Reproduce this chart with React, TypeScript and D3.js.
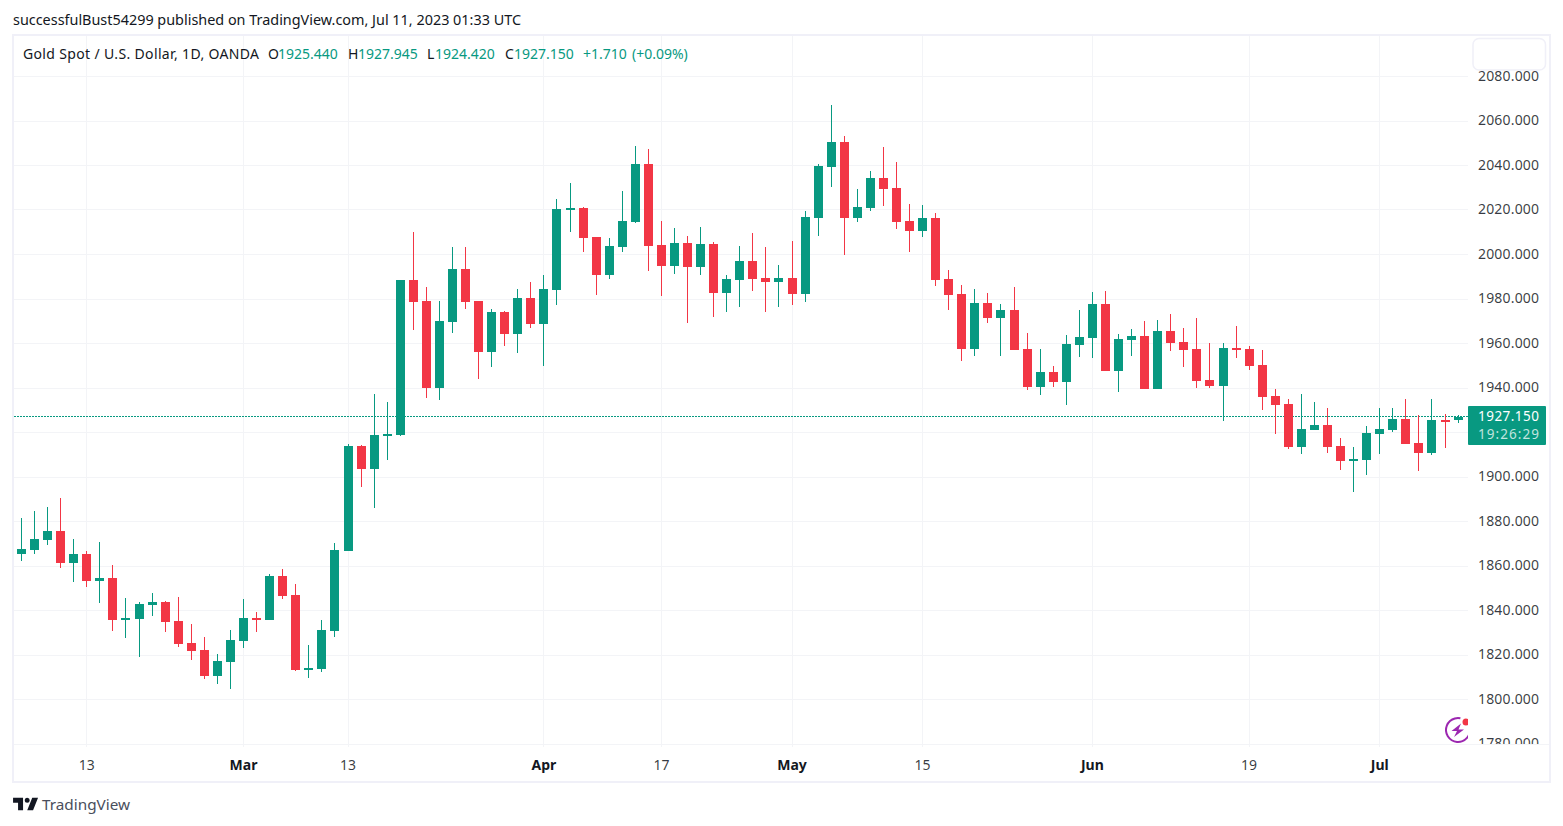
import * as d3 from "d3";
import React from "react";

const opens = [
  1865.4, 1867.2, 1871.7, 1875.7, 1861.3, 1865.4, 1853.3, 1854.6, 1835.7, 1836.2, 1842.5, 1843.8, 1835.3, 1825.4, 1822.2, 1810.6, 1816.9, 1826.3, 1836.6, 1835.7, 1855.5, 1847, 1813.3, 1813.7, 1830.8, 1866.7,
  1913.9, 1903.6, 1918.4, 1918.9, 1988.5, 1979.1, 1940, 1969.6, 1993.5, 1979.1, 1956.2, 1974.1, 1964.3, 1980.4, 1968.8, 1984, 2020, 2020.9, 2007.9, 1990.8, 2003.4, 2014.6, 2040.7, 2004.3, 1994.8, 2005.2, 1994.4, 2004.7, 1982.7, 1988.5, 1997.1, 1989.4, 1987.6, 1989.4, 1982.2,
  2016.4, 2039.3, 2050.5, 2016.4, 2020.9, 2034.4, 2029.9, 2015, 2010.5, 2016.4, 1989, 1982.2, 1957.5, 1978.2, 1971.4, 1975, 1957.5, 1940.4, 1947.2, 1942.7, 1959.3, 1962.5, 1977.7, 1947.6, 1961.6, 1963.4, 1939.5, 1965.6, 1960.7, 1957.5, 1943.6, 1940.9, 1958, 1957.5, 1950.3, 1936.4, 1932.8, 1913.5, 1921.1, 1923.4, 1913.9, 1907.2, 1907.6, 1919.3, 1921.1, 1926.1, 1915.3, 1910.8, 1925.6, 1925.44,
];
const highs = [
  1881.6, 1884.7, 1886.5, 1890.6, 1872.1, 1866.7, 1870.8, 1860.4, 1845.6, 1843.8, 1847.9, 1844.3, 1846.1, 1833.9, 1828.1, 1820.4, 1831.2, 1845.2, 1839.3, 1856.4, 1858.6, 1851.9, 1824.5, 1835.7, 1870.3, 1914.8,
  1914.4, 1937.3, 1933.7, 1988.5, 2010.1, 1985.4, 1979.1, 2003.4, 2003.4, 1979.1, 1975.5, 1974.6, 1984.5, 1987.6, 1990.8, 2024.9, 2032.1, 2021.3, 2007.9, 2007.4, 2028.5, 2048.7, 2047.4, 2015, 2011.9, 2008.3, 2012.3, 2005.6, 1990.8, 2003.8, 2009.6, 2003.4, 1995.3, 2006, 2019.5,
  2040.7, 2067.2, 2053.2, 2029.4, 2037.5, 2048.3, 2041.6, 2022.7, 2022.2, 2018.6, 1993, 1986.3, 1984.5, 1982.7, 1977.7, 1985.4, 1964.7, 1957.5, 1949.9, 1963.8, 1975, 1983.1, 1983.6, 1964.3, 1966.5, 1970.1, 1970.5, 1973.2, 1967, 1971.4, 1960.2, 1960.2, 1967.9, 1958.9, 1957.1, 1939.5, 1935, 1937.3, 1933.7, 1931, 1917.5, 1913.5, 1922.9, 1931, 1931, 1935, 1927.9, 1935, 1928.3, 1927.945,
];
const lows = [
  1862.2, 1865.4, 1869.4, 1859.1, 1852.8, 1850.6, 1843.4, 1830.8, 1827.6, 1819.1, 1837.5, 1830.3, 1823.6, 1817.8, 1809.2, 1807, 1804.7, 1823.1, 1830.3, 1835.7, 1845.2, 1812.8, 1809.7, 1812.4, 1828.1, 1866.7,
  1895.5, 1886.1, 1907.6, 1918.4, 1966.1, 1935.5, 1934.6, 1964.7, 1975.5, 1944, 1949.4, 1958.9, 1955.7, 1966.9, 1949.9, 1977.3, 2010.1, 2001.1, 1981.8, 1989, 2001.1, 2014.1, 1992.6, 1981.3, 1991.2, 1969.2, 1990.8, 1971.9, 1974.1, 1976.4, 1983.6, 1974.1, 1976.4, 1977.3, 1978.6,
  2008.3, 2030.3, 1999.8, 2014.6, 2019.5, 2021.8, 2011.4, 2001.1, 2007.9, 1985.8, 1975, 1952.1, 1954.4, 1969.2, 1954.4, 1957.1, 1939.1, 1936.8, 1940.4, 1932.4, 1953.9, 1953.5, 1947.6, 1938.2, 1954.4, 1939.5, 1939.5, 1956.6, 1949.4, 1940, 1940, 1925.2, 1953.5, 1948.1, 1930.1, 1919.3, 1912.6, 1910.3, 1921.1, 1910.8, 1903.1, 1893.3, 1900.9, 1910.3, 1920.2, 1914.8, 1902.7, 1909.9, 1913, 1924.42,
];
const closes = [
  1867.6, 1872.1, 1875.7, 1861.3, 1865.4, 1853.3, 1854.6, 1835.7, 1836.6, 1842.9, 1843.8, 1834.8, 1824.9, 1821.8, 1810.6, 1817.3, 1826.7, 1836.6, 1835.7, 1855.5, 1846.5, 1813.3, 1814.2, 1831.2, 1867.2, 1913.9,
  1903.6, 1918.9, 1919.3, 1988.5, 1978.6, 1940, 1970.1, 1993.5, 1978.6, 1956.2, 1974.1, 1964.3, 1980.4, 1968.8, 1984.5, 2020.4, 2020.9, 2007.4, 1990.8, 2003.8, 2015, 2040.7, 2003.8, 1994.8, 2005.2, 1994.4, 2004.7, 1982.7, 1989, 1997.1, 1989, 1987.6, 1989.4, 1982.2, 2016.8,
  2039.8, 2050.5, 2016.4, 2021.3, 2034.4, 2029.4, 2014.6, 2010.5, 2016.4, 1988.5, 1981.8, 1957.5, 1978.2, 1971.4, 1975, 1957.1, 1940.4, 1947.2, 1942.7, 1959.8, 1962.9, 1977.7, 1947.6, 1962, 1963.4, 1939.5, 1965.6, 1960.2, 1957.1, 1943.1, 1940.9, 1958, 1957.1, 1949.9, 1935.9, 1932.4, 1913.5, 1921.6, 1923.4, 1913.5, 1907.2, 1908.1, 1919.8, 1921.6, 1926.1, 1914.8, 1910.8, 1925.6, 1925.2, 1927.15,
];

const lastPrice = 1927.15;
const priceTicks = d3.range(1780, 2081, 20);
const timeTickIndex = [5, 17, 25, 40, 49, 59, 69, 82, 94, 104];
const timeTickLabels = ["13", "Mar", "13", "Apr", "17", "May", "15", "Jun", "19", "Jul"];
const monthLabels = ["Mar", "Apr", "May", "Jun", "Jul"];

const legendParts: [number, string, boolean, number?][] = [
  [23, "Gold Spot / U.S. Dollar, 1D, OANDA", false, 236],
  [268, "O", false],
  [278, "1925.440", true],
  [348, "H", false],
  [358, "1927.945", true],
  [427, "L", false],
  [435, "1924.420", true],
  [505, "C", false],
  [514, "1927.150", true],
  [583, "+1.710", true],
  [632, "(+0.09%)", true],
];

const upColor = "#089981";
const downColor = "#f23645";
const gridColor = "#f3f4f7";
const borderColor = "#f0f0f8";
const textColor = "#131722";
const fontFamily = "'Noto Sans', sans-serif";

const width = 1563;
const height = 826;
const plotLeft = 14;
const plotRight = 1468;
const plotTop = 36;
const plotBottom = 744;
const bodyWidth = 9;

export default function App() {
  const x = d3.scaleLinear().domain([0, opens.length - 1]).range([21, 1457.6]);
  const y = d3.scaleLinear().domain([1780, 2080]).range([744, 76.5]);
  const lastY = y(lastPrice);

  return (
    <svg
      width={width}
      height={height}
      viewBox={`0 0 ${width} ${height}`}
      style={{ position: "absolute", left: 0, top: 0, background: "#fff", fontFamily }}
    >
      <defs>
        <clipPath id="axis-clip">
          <rect x={plotRight} y={plotTop} width={80} height={plotBottom - plotTop} />
        </clipPath>
        <clipPath id="plot-clip">
          <rect x={plotLeft} y={plotTop} width={plotRight - plotLeft} height={plotBottom - plotTop} />
        </clipPath>
      </defs>

      <text x={13} y={25} fontSize={14} fill={textColor} textLength={508} lengthAdjust="spacingAndGlyphs">
        successfulBust54299 published on TradingView.com, Jul 11, 2023 01:33 UTC
      </text>

      {/* chart frame */}
      <rect x={13} y={35} width={1537} height={747} fill="none" stroke={borderColor} strokeWidth={2} />

      {/* grid */}
      {priceTicks.map((t) => (
        <line key={t} x1={plotLeft} x2={plotRight} y1={Math.floor(y(t)) + 0.5} y2={Math.floor(y(t)) + 0.5} stroke={gridColor} />
      ))}
      {timeTickIndex.map((i) => (
        <line key={i} x1={Math.round(x(i)) + 0.5} x2={Math.round(x(i)) + 0.5} y1={plotTop} y2={plotBottom + 3} stroke={gridColor} />
      ))}
      <line x1={plotLeft} x2={1549} y1={plotBottom + 0.5} y2={plotBottom + 0.5} stroke={gridColor} />

      {/* last price line */}
      <line
        x1={plotLeft}
        x2={plotRight}
        y1={Math.floor(lastY) + 0.5}
        y2={Math.floor(lastY) + 0.5}
        stroke={upColor}
        strokeDasharray="2 1"
      />

      {/* candles */}
      <g clipPath="url(#plot-clip)">
        {opens.map((open, i) => {
          const close = closes[i];
          const color = close >= open ? upColor : downColor;
          const cx = Math.round(x(i));
          const top = Math.round(y(Math.max(open, close)));
          const bottom = Math.round(y(Math.min(open, close)));
          return (
            <g key={i} fill={color}>
              <rect x={cx} y={Math.round(y(highs[i]))} width={1} height={Math.round(y(lows[i])) - Math.round(y(highs[i]))} />
              <rect x={cx - (bodyWidth - 1) / 2} y={top} width={bodyWidth} height={Math.max(bottom - top, 2)} />
            </g>
          );
        })}
      </g>

      {/* price axis */}
      <g clipPath="url(#axis-clip)">
        {priceTicks.map((t) => (
          <text key={t} x={1478} y={y(t) - 0.6} dy="0.36em" fontSize={14} fill={textColor} fillOpacity={0.85} textLength={61}>
            {d3.format(".3f")(t)}
          </text>
        ))}
      </g>
      <rect x={1473} y={38.5} width={72.5} height={31.5} rx={6} fill="#fff" stroke={borderColor} strokeWidth={1.5} />

      {/* last price label */}
      <rect x={plotRight} y={406} width={78} height={39} rx={1} fill={upColor} />
      <text x={1478} y={416.5} dy="0.36em" fontSize={13.5} fill="#fff" textLength={61}>
        {d3.format(".3f")(lastPrice)}
      </text>
      <text x={1478} y={434.5} dy="0.36em" fontSize={13.5} fill="#fff" fillOpacity={0.75} textLength={61}>
        19:26:29
      </text>

      {/* time axis */}
      {timeTickIndex.map((i, k) => (
        <text
          key={i}
          x={x(i) + 0.5}
          y={765}
          dy="0.36em"
          textAnchor="middle"
          fontSize={14}
          fill={textColor}
          fontWeight={monthLabels.includes(timeTickLabels[k]) ? 700 : 400}
          fillOpacity={monthLabels.includes(timeTickLabels[k]) ? 1 : 0.85}
        >
          {timeTickLabels[k]}
        </text>
      ))}

      {/* legend */}
      {legendParts.map(([px, label, isValue, len]) => (
        <text key={px} x={px} y={59} fontSize={14} fill={isValue ? upColor : textColor} textLength={len}>
          {label}
        </text>
      ))}

      {/* lightning badge */}
      <g clipPath="url(#plot-clip)">
        <path
          d={d3.arc()({ innerRadius: 11, outerRadius: 13, startAngle: 0.9, endAngle: 2 * Math.PI + 0.2 }) ?? ""}
          transform="translate(1458,730)"
          fill="#9c27b0"
        />
        <path d="M1461 723.5 L1451.5 731 L1457 731 L1454 737 L1464 729.5 L1458.5 729.5 Z" fill="#9c27b0" />
        <circle cx={1466} cy={722} r={3.5} fill={downColor} />
      </g>

      {/* logo */}
      <g transform="translate(11.4,792.7) scale(0.833)">
        <path d="M14 6H2v6h6v9h6V6Zm12 15h-7l6-15h7l-6 15Zm-7-9a3 3 0 1 0 0-6 3 3 0 0 0 0 6Z" fill={textColor} />
      </g>
      <text x={42} y={810} fontSize={15.3} fill="#4a4e5c">
        TradingView
      </text>
    </svg>
  );
}
